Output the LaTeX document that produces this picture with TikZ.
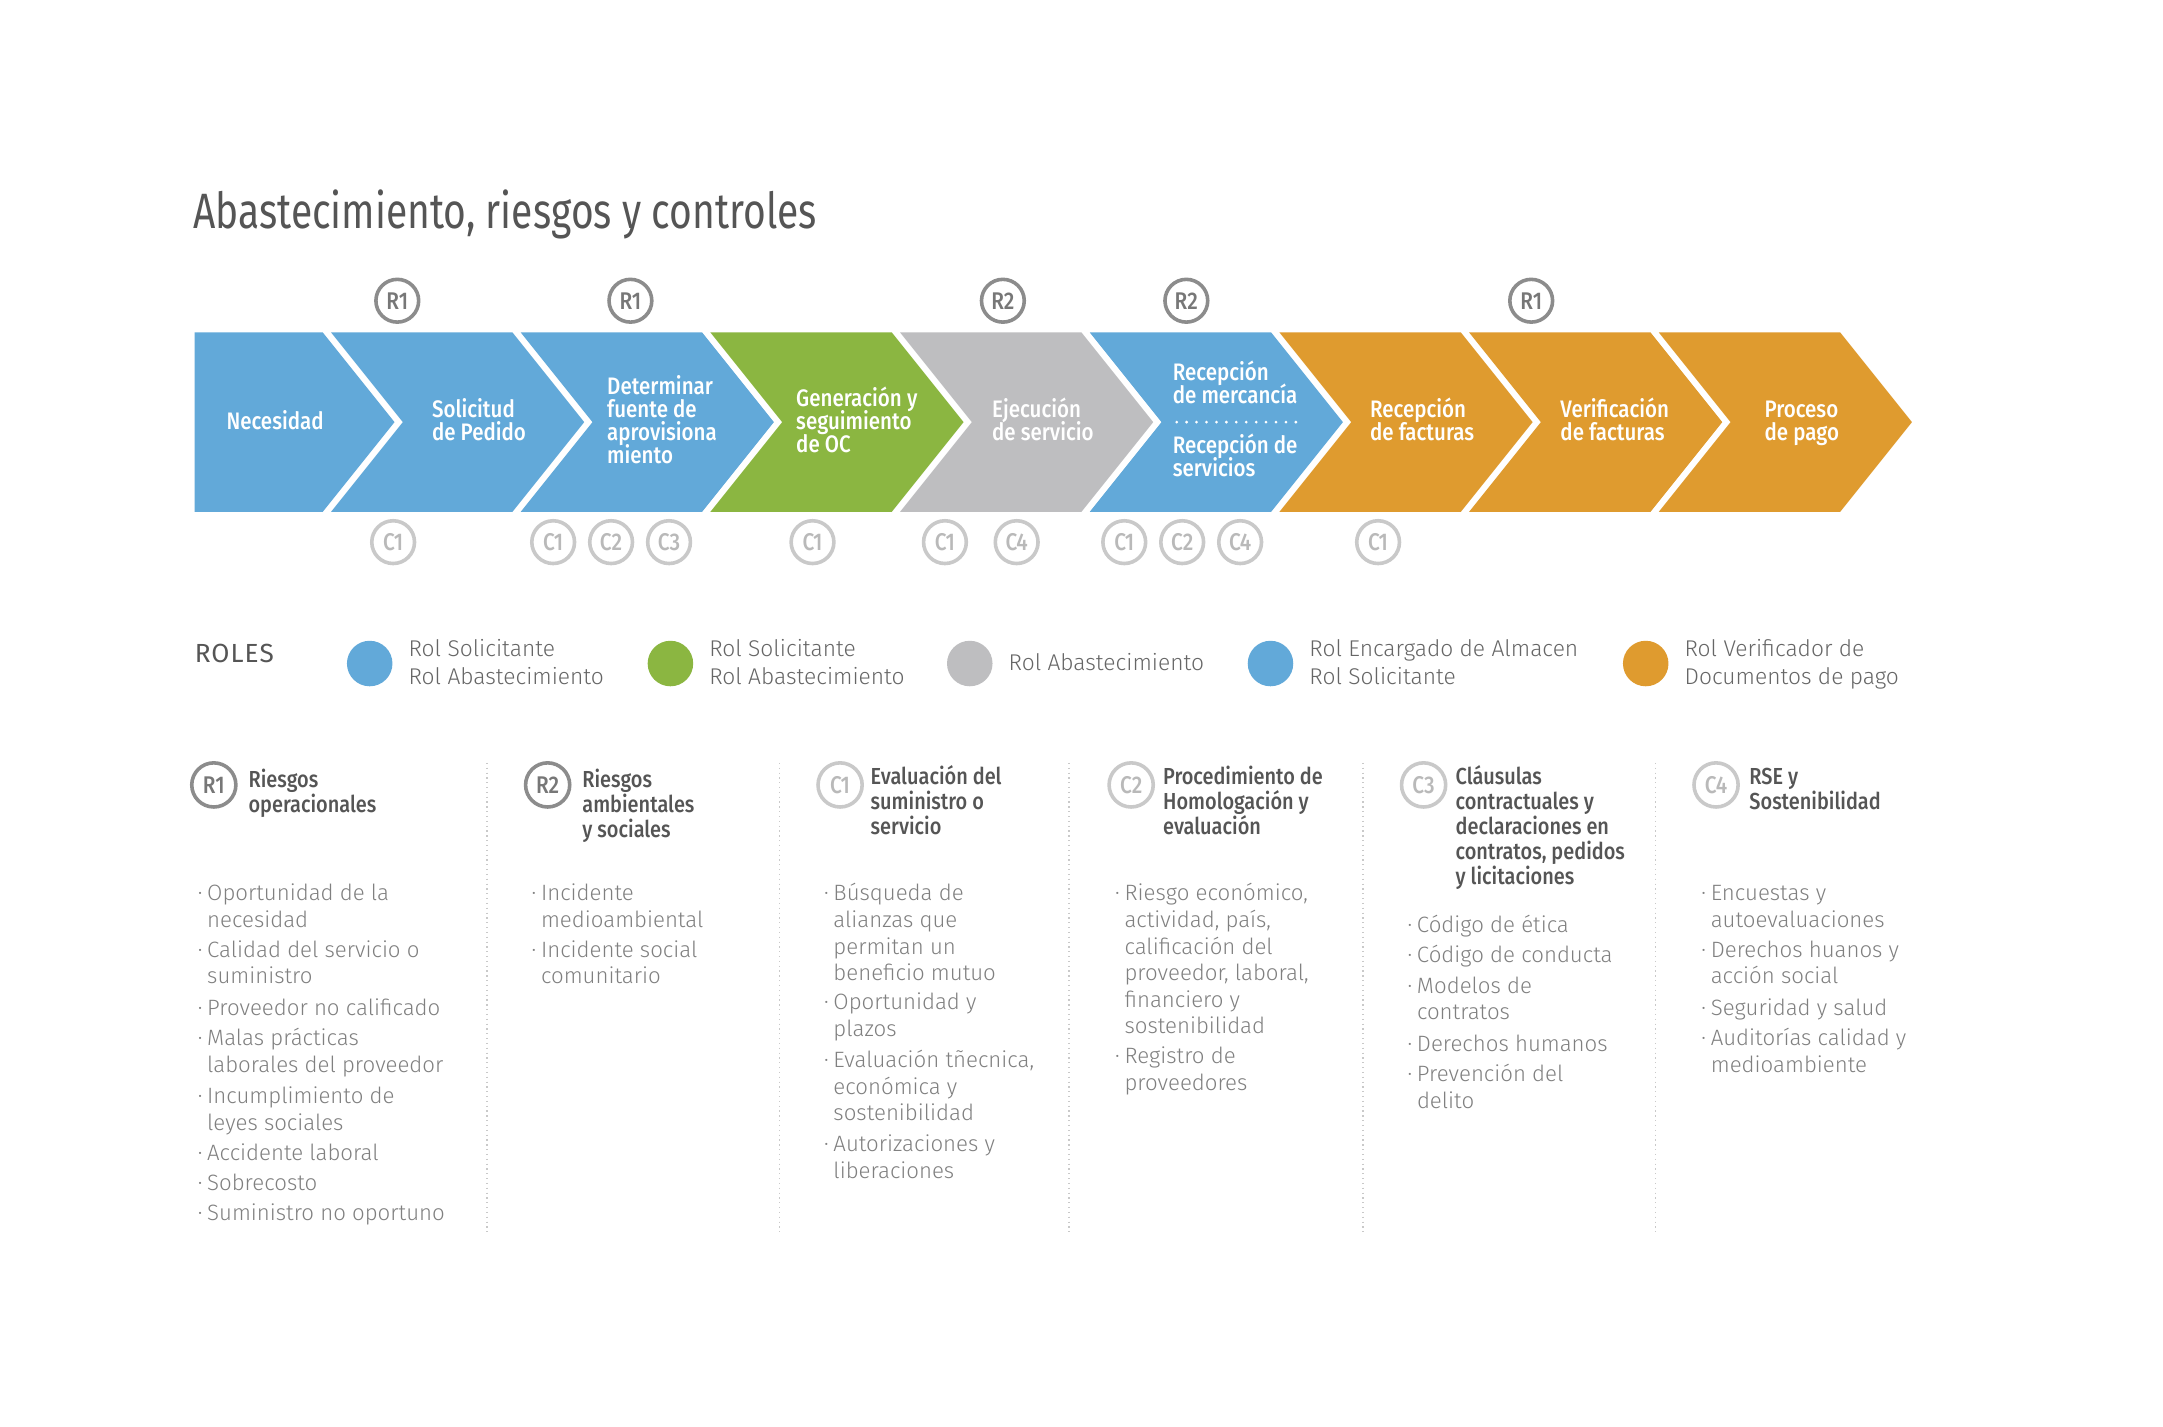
\documentclass[tikz,border=0pt]{standalone}
\usepackage{fontspec}
\IfFontExistsTF{Fira Sans Light}{\newfontfamily\bodyfont{Fira Sans Light}}{\newfontfamily\bodyfont{Fira Sans}}
\IfFontExistsTF{Fira Sans Medium}{\newfontfamily\headfont{Fira Sans Medium}[FakeStretch=0.86]}{\newfontfamily\headfont{Fira Sans}[FakeStretch=0.86]}
\newfontfamily\titlefont{Fira Sans}[FakeStretch=0.785]
\newfontfamily\rolesfont{Fira Sans}[LetterSpace=4]
\setmainfont{Fira Sans}

\definecolor{cblue}{HTML}{62A9D9}
\definecolor{cgreen}{HTML}{8BB641}
\definecolor{cgray}{HTML}{BEBEC0}
\definecolor{corange}{HTML}{DF9B2F}
\definecolor{tdark}{HTML}{555555}
\definecolor{tbody}{HTML}{808080}
\definecolor{tlegend}{HTML}{666666}
\definecolor{rline}{HTML}{8C8C8C}
\definecolor{cline}{HTML}{C9C9C9}

% multi-line text block: lines split by \\, spaced by the current leading,
% first baseline on the node's base
\makeatletter
\newcommand{\mlines}[1]{\vtop{\baselineskip\f@baselineskip\lineskiplimit-100pt\relax
  \def\\{\egroup\hbox\bgroup}\hbox\bgroup#1\egroup}}
\makeatother
\newcommand{\bul}{\makebox[0pt][r]{\textperiodcentered\hspace{3.5pt}}}

\tikzset{
  steptext/.style={anchor=base west, inner sep=0, text=white,
    font=\headfont\fontsize{17.3}{16.6}\selectfont},
  rbadge/.style={circle, draw=rline, line width=2.6, minimum size=31, inner sep=0,
    text=rline!85!black, font=\headfont\fontsize{17.5}{17.5}\selectfont},
  cbadge/.style={circle, draw=cline, line width=2.6, minimum size=31, inner sep=0,
    text=cline!92!black, font=\headfont\fontsize{17.5}{17.5}\selectfont},
  bigr/.style={rbadge, minimum size=32},
  bigc/.style={cbadge, minimum size=32},
  dot/.style={circle, minimum size=33, inner sep=0},
  legtext/.style={anchor=base west, inner sep=0, text=tlegend,
    font=\bodyfont\fontsize{16.5}{20}\selectfont},
  headtext/.style={anchor=base west, inner sep=0, text=tdark,
    font=\headfont\fontsize{16.8}{18}\selectfont},
  itemtext/.style={anchor=base west, inner sep=0, text=tbody,
    font=\bodyfont\fontsize{16.1}{19.3}\selectfont},
  sepline/.style={draw=cline, line width=0.9, dash pattern=on 0.9pt off 2.6pt},
}

\begin{document}
\begin{tikzpicture}[x=1pt, y=-1pt]
\useasboundingbox (0,0) rectangle (1568,1034);
\fill[white] (0,0) rectangle (1568,1034);

% title
\node[anchor=base west, inner sep=0, text=tdark, font=\titlefont\fontsize{36}{36}\selectfont]
  (title) at (140,166) {Abastecimiento, riesgos y controles};

% process chevrons: boundaries B_i = 237 + 137.5 (i-1), depth 52
\def\tp{241}\def\bt{371}\def\md{306}\def\dp{52}\def\gp{3}
\fill[cblue] (141,\tp) -- (237-\gp,\tp) -- (237+\dp-\gp,\md) -- (237-\gp,\bt) -- (141,\bt) -- cycle;
\foreach \i/\col in {1/cblue,2/cblue,3/cgreen,4/cgray,5/cblue,6/corange,7/corange,8/corange}{
  \pgfmathsetmacro{\ba}{237+137.5*(\i-1)}
  \pgfmathsetmacro{\bb}{237+137.5*\i}
  \fill[\col] (\ba+\gp,\tp) -- (\bb-\gp,\tp) -- (\bb+\dp-\gp,\md) -- (\bb-\gp,\bt)
    -- (\ba+\gp,\bt) -- (\ba+\dp+\gp,\md) -- cycle;
}

% step labels
\node[steptext] (sNec) at (164,311) {Necesidad};
\node[steptext] (sSol) at (313,303) {\mlines{Solicitud\\de Pedido}};
\node[steptext] (sDet) at (440,286) {\mlines{Determinar\\fuente de\\aprovisiona\\miento}};
\node[steptext] (sGen) at (577,295) {\mlines{Generación y\\seguimiento\\de OC}};
\node[steptext] (sEje) at (719,303) {\mlines{Ejecución\\de servicio}};
\node[steptext] (sRm) at (850,276) {\mlines{Recepción\\de mercancía}};
\node[steptext] (sRs) at (850,329) {\mlines{Recepción de\\servicios}};
\coordinate (dl) at (853,306);
\coordinate (dr) at (946,306);
\draw[white, line width=2.2, line cap=round, dash pattern=on 0pt off 7.2pt] (dl) -- (dr);
\node[steptext] (sRf) at (993,303) {\mlines{Recepción\\de facturas}};
\node[steptext] (sVf) at (1131,303) {\mlines{Verificación\\de facturas}};
\node[steptext] (sPp) at (1279,303) {\mlines{Proceso\\de pago}};

% risk badges above the band
\node[rbadge] (ra) at (288,218) {R1};
\node[rbadge] (rb) at (457,218) {R1};
\node[rbadge] (rc) at (727,218) {R2};
\node[rbadge] (rd) at (860,218) {R2};
\node[rbadge] (re) at (1110,218) {R1};

% control badges below the band
\node[cbadge] (ca) at (285,393) {C1};
\node[cbadge] (cb) at (401,393) {C1};
\node[cbadge] (cc) at (443,393) {C2};
\node[cbadge] (cd) at (485,393) {C3};
\node[cbadge] (ce) at (589,393) {C1};
\node[cbadge] (cf) at (685,393) {C1};
\node[cbadge] (cg) at (737,393) {C4};
\node[cbadge] (ch) at (815,393) {C1};
\node[cbadge] (ci) at (857,393) {C2};
\node[cbadge] (cj) at (899,393) {C4};
\node[cbadge] (ck) at (999,393) {C1};

% roles legend
\node[anchor=base west, inner sep=0, text=tdark, font=\rolesfont\fontsize{19}{19}\selectfont]
  (roles) at (141,480) {ROLES};
\node[dot, fill=cblue] (da) at (268,481) {};
\node[legtext] (la) at (296,476) {\mlines{Rol Solicitante\\Rol Abastecimiento}};
\node[dot, fill=cgreen] (db) at (486,481) {};
\node[legtext] (lb) at (514,476) {\mlines{Rol Solicitante\\Rol Abastecimiento}};
\node[dot, fill=cgray] (dc) at (703,481) {};
\node[legtext] (lc) at (731,486) {Rol Abastecimiento};
\node[dot, fill=cblue] (dd) at (921,481) {};
\node[legtext] (ld) at (949,476) {\mlines{Rol Encargado de Almacen\\Rol Solicitante}};
\node[dot, fill=corange] (de) at (1193,481) {};
\node[legtext] (le) at (1221,476) {\mlines{Rol Verificador de\\Documentos de pago}};

% column separators
\foreach \x/\n in {353/a,565/b,775/c,988/d,1200/e}{
  \coordinate (sep\n t) at (\x,553);
  \coordinate (sep\n b) at (\x,893);
  \draw[sepline] (sep\n t) -- (sep\n b);
}

% column R1
\node[bigr] (hR1) at (155,569) {R1};
\node[headtext] (tR1) at (180,571) {\mlines{Riesgos\\operacionales}};
\node[itemtext] (r1i1) at (150,653) {\mlines{\bul Oportunidad de la\\necesidad}};
\node[itemtext] (r1i2) at (150,694) {\mlines{\bul Calidad del servicio o\\suministro}};
\node[itemtext] (r1i3) at (150,736) {\mlines{\bul Proveedor no calificado}};
\node[itemtext] (r1i4) at (150,758) {\mlines{\bul Malas prácticas\\laborales del proveedor}};
\node[itemtext] (r1i5) at (150,800) {\mlines{\bul Incumplimiento de\\leyes sociales}};
\node[itemtext] (r1i6) at (150,841) {\mlines{\bul Accidente laboral}};
\node[itemtext] (r1i7) at (150,863) {\mlines{\bul Sobrecosto}};
\node[itemtext] (r1i8) at (150,885) {\mlines{\bul Suministro no oportuno}};

% column R2
\node[bigr] (hR2) at (397,569) {R2};
\node[headtext] (tR2) at (422,571) {\mlines{Riesgos\\ambientales\\y sociales}};
\node[itemtext] (r2i1) at (392,653) {\mlines{\bul Incidente\\medioambiental}};
\node[itemtext] (r2i2) at (392,694) {\mlines{\bul Incidente social\\comunitario}};

% column C1
\node[bigc] (hC1) at (609,569) {C1};
\node[headtext] (tC1) at (631,569) {\mlines{Evaluación del\\suministro o\\servicio}};
\node[itemtext] (c1i1) at (604,653) {\mlines{\bul Búsqueda de\\alianzas que\\permitan un\\beneficio mutuo}};
\node[itemtext] (c1i2) at (604,732) {\mlines{\bul Oportunidad y\\plazos}};
\node[itemtext] (c1i3) at (604,774) {\mlines{\bul Evaluación tñecnica,\\económica y\\sostenibilidad}};
\node[itemtext] (c1i4) at (604,835) {\mlines{\bul Autorizaciones y\\liberaciones}};

% column C2
\node[bigc] (hC2) at (820,569) {C2};
\node[headtext] (tC2) at (843,569) {\mlines{Procedimiento de\\Homologación y\\evaluación}};
\node[itemtext] (c2i1) at (815,653) {\mlines{\bul Riesgo económico,\\actividad, país,\\calificación del\\proveedor, laboral,\\financiero y\\sostenibilidad}};
\node[itemtext] (c2i2) at (815,771) {\mlines{\bul Registro de\\proveedores}};

% column C3
\node[bigc] (hC3) at (1032,569) {C3};
\node[headtext] (tC3) at (1055,569) {\mlines{Cláusulas\\contractuales y\\declaraciones en\\contratos, pedidos\\y licitaciones}};
\node[itemtext] (c3i1) at (1027,676) {\mlines{\bul Código de ética}};
\node[itemtext] (c3i2) at (1027,698) {\mlines{\bul Código de conducta}};
\node[itemtext] (c3i3) at (1027,720) {\mlines{\bul Modelos de\\contratos}};
\node[itemtext] (c3i4) at (1027,762) {\mlines{\bul Derechos humanos}};
\node[itemtext] (c3i5) at (1027,784) {\mlines{\bul Prevención del\\delito}};

% column C4
\node[bigc] (hC4) at (1244,569) {C4};
\node[headtext] (tC4) at (1268,569) {\mlines{RSE y\\Sostenibilidad}};
\node[itemtext] (c4i1) at (1240,653) {\mlines{\bul Encuestas y\\autoevaluaciones}};
\node[itemtext] (c4i2) at (1240,694) {\mlines{\bul Derechos huanos y\\acción social}};
\node[itemtext] (c4i3) at (1240,736) {\mlines{\bul Seguridad y salud}};
\node[itemtext] (c4i4) at (1240,758) {\mlines{\bul Auditorías calidad y\\medioambiente}};
\end{tikzpicture}
\end{document}
